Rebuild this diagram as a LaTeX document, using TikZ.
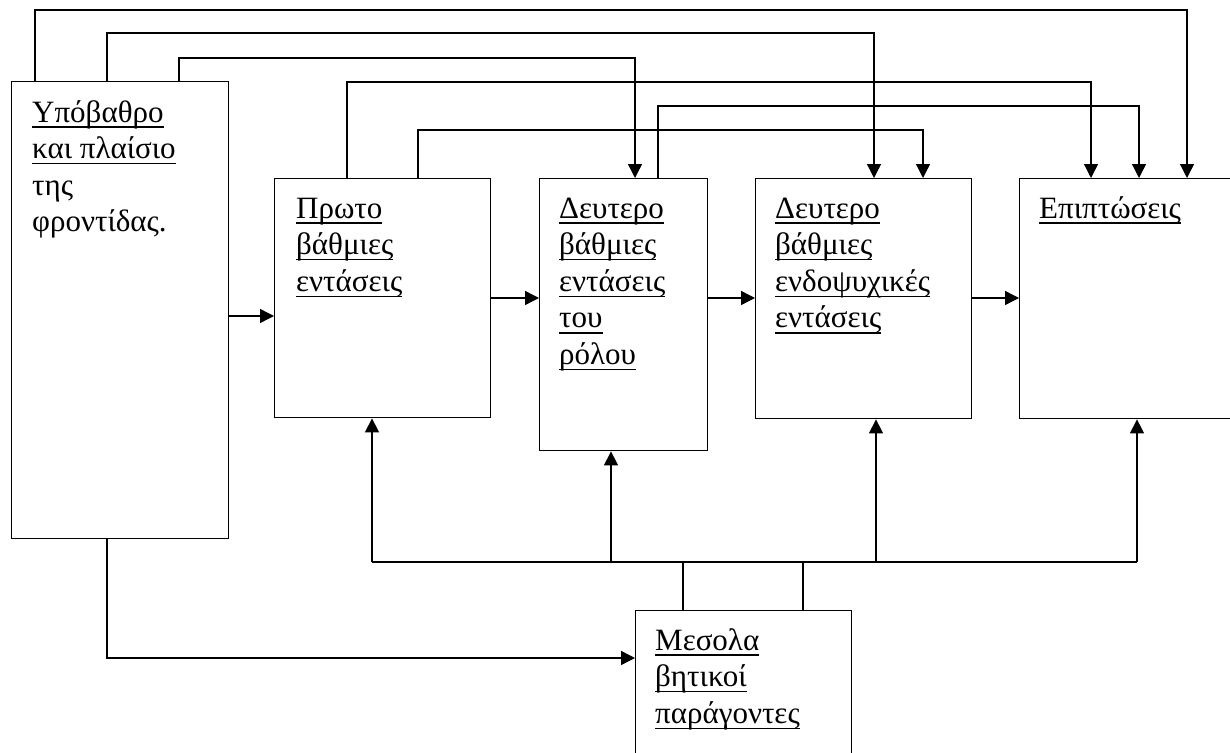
\documentclass[tikz,border=0pt]{standalone}
\usepackage{fontspec}
\setmainfont{Liberation Serif}
\usetikzlibrary{arrows.meta,calc}
\newcommand\uln[1]{\setbox0\hbox{#1}\rlap{\rule[-5.8pt]{\wd0}{1.4pt}}\box0}
\begin{document}
\begin{tikzpicture}[x=1pt,y=-1pt,
  box/.style={draw,line width=1.4pt,inner sep=0pt,anchor=north west},
  txt/.style={anchor=base west,inner sep=0pt,font=\fontsize{31}{36.6}\selectfont},
  conn/.style={line width=1.4pt},
  arr/.style={line width=1.4pt,-{Triangle[length=14pt,width=14pt]}}]
\useasboundingbox (0,0) rectangle (1230,752);
% boxes
\node[box,minimum width=217pt,minimum height=457pt] (A) at (11,81) {};
\node[box,minimum width=216pt,minimum height=239pt] (B) at (274,178) {};
\node[box,minimum width=168pt,minimum height=272pt] (C) at (539,178) {};
\node[box,minimum width=216pt,minimum height=240pt] (D) at (755,178) {};
\node[box,minimum width=230pt,minimum height=240pt] (E) at (1019,178) {};
\node[box,minimum width=216pt,minimum height=180pt] (M) at (635,610) {};
% texts
\node[txt] (At) at ($(A.north west)+(21,41)$) {\vtop{\hbox{\uln{Υπόβαθρο}}\hbox{\uln{και πλαίσιο}}\hbox{της}\hbox{φροντίδας.}}};
\node[txt] (Bt) at ($(B.north west)+(22,40)$) {\vtop{\hbox{\uln{Πρωτο}}\hbox{\uln{βάθμιες}}\hbox{\uln{εντάσεις}}}};
\node[txt] (Ct) at ($(C.north west)+(20,40)$) {\vtop{\hbox{\uln{Δευτερο}}\hbox{\uln{βάθμιες}}\hbox{\uln{εντάσεις}}\hbox{\uln{του}}\hbox{\uln{ρόλου}}}};
\node[txt] (Dt) at ($(D.north west)+(20,40)$) {\vtop{\hbox{\uln{Δευτερο}}\hbox{\uln{βάθμιες}}\hbox{\uln{ενδοψυχικές}}\hbox{\uln{εντάσεις}}}};
\node[txt] (Et) at ($(E.north west)+(20,40)$) {\uln{Επιπτώσεις}};
\node[txt] (Mt) at ($(M.north west)+(20,40)$) {\vtop{\hbox{\uln{Μεσολα}}\hbox{\uln{βητικοί}}\hbox{\uln{παράγοντες}}}};
% attachment points
\coordinate (a1) at ([xshift=24pt]A.north west);
\coordinate (a2) at ([xshift=96pt]A.north west);
\coordinate (a3) at ([xshift=168pt]A.north west);
\coordinate (b1) at ([xshift=73pt]B.north west);
\coordinate (b2) at ([xshift=144pt]B.north west);
\coordinate (c1) at ([xshift=119pt]C.north west);
\coordinate (cin) at ([xshift=96pt]C.north west);
\coordinate (d1) at ([xshift=119pt]D.north west);
\coordinate (d2) at ([xshift=168pt]D.north west);
\coordinate (e1) at ([xshift=72pt]E.north west);
\coordinate (e2) at ([xshift=120pt]E.north west);
\coordinate (e3) at ([xshift=168pt]E.north west);
% rails
\coordinate (r1) at (0,10);
\coordinate (r2) at (0,33);
\coordinate (r3) at (0,58);
\coordinate (r4) at (0,82);
\coordinate (r5) at (0,106);
\coordinate (r6) at (0,130);
\draw[arr] (a1) -- (a1 |- r1) -| (e3);
\draw[arr] (a2) -- (a2 |- r2) -| (d1);
\draw[arr] (a3) -- (a3 |- r3) -| (cin);
\draw[arr] (b1) -- (b1 |- r4) -| (e1);
\draw[arr] (c1) -- (c1 |- r5) -| (e2);
\draw[arr] (b2) -- (b2 |- r6) -| (d2);
% horizontal flow
\draw[arr] (A.east |- 0,316) -- (B.west |- 0,316);
\draw[arr] (B.east |- 0,298) -- (C.west |- 0,298);
\draw[arr] (C.east |- 0,298) -- (D.west |- 0,298);
\draw[arr] (D.east |- 0,298) -- (E.west |- 0,298);
% bottom bus
\coordinate (bus) at (0,562);
\coordinate (bB) at ([xshift=98pt]B.south west);
\coordinate (bC) at ([xshift=72pt]C.south west);
\coordinate (bD) at ([xshift=121pt]D.south west);
\coordinate (bE) at ([xshift=118pt]E.south west);
\coordinate (m1) at ([xshift=48pt]M.north west);
\coordinate (m2) at ([xshift=168pt]M.north west);
\draw[conn] (bB |- bus) -- (bE |- bus);
\draw[arr] (bB |- bus) -- (bB);
\draw[arr] (bC |- bus) -- (bC);
\draw[arr] (bD |- bus) -- (bD);
\draw[arr] (bE |- bus) -- (bE);
\draw[conn] (m1) -- (m1 |- bus);
\draw[conn] (m2) -- (m2 |- bus);
% A to M
\coordinate (aB) at ([xshift=96pt]A.south west);
\draw[arr] (aB) |- (M.west |- 0,658);
\end{tikzpicture}
\end{document}
